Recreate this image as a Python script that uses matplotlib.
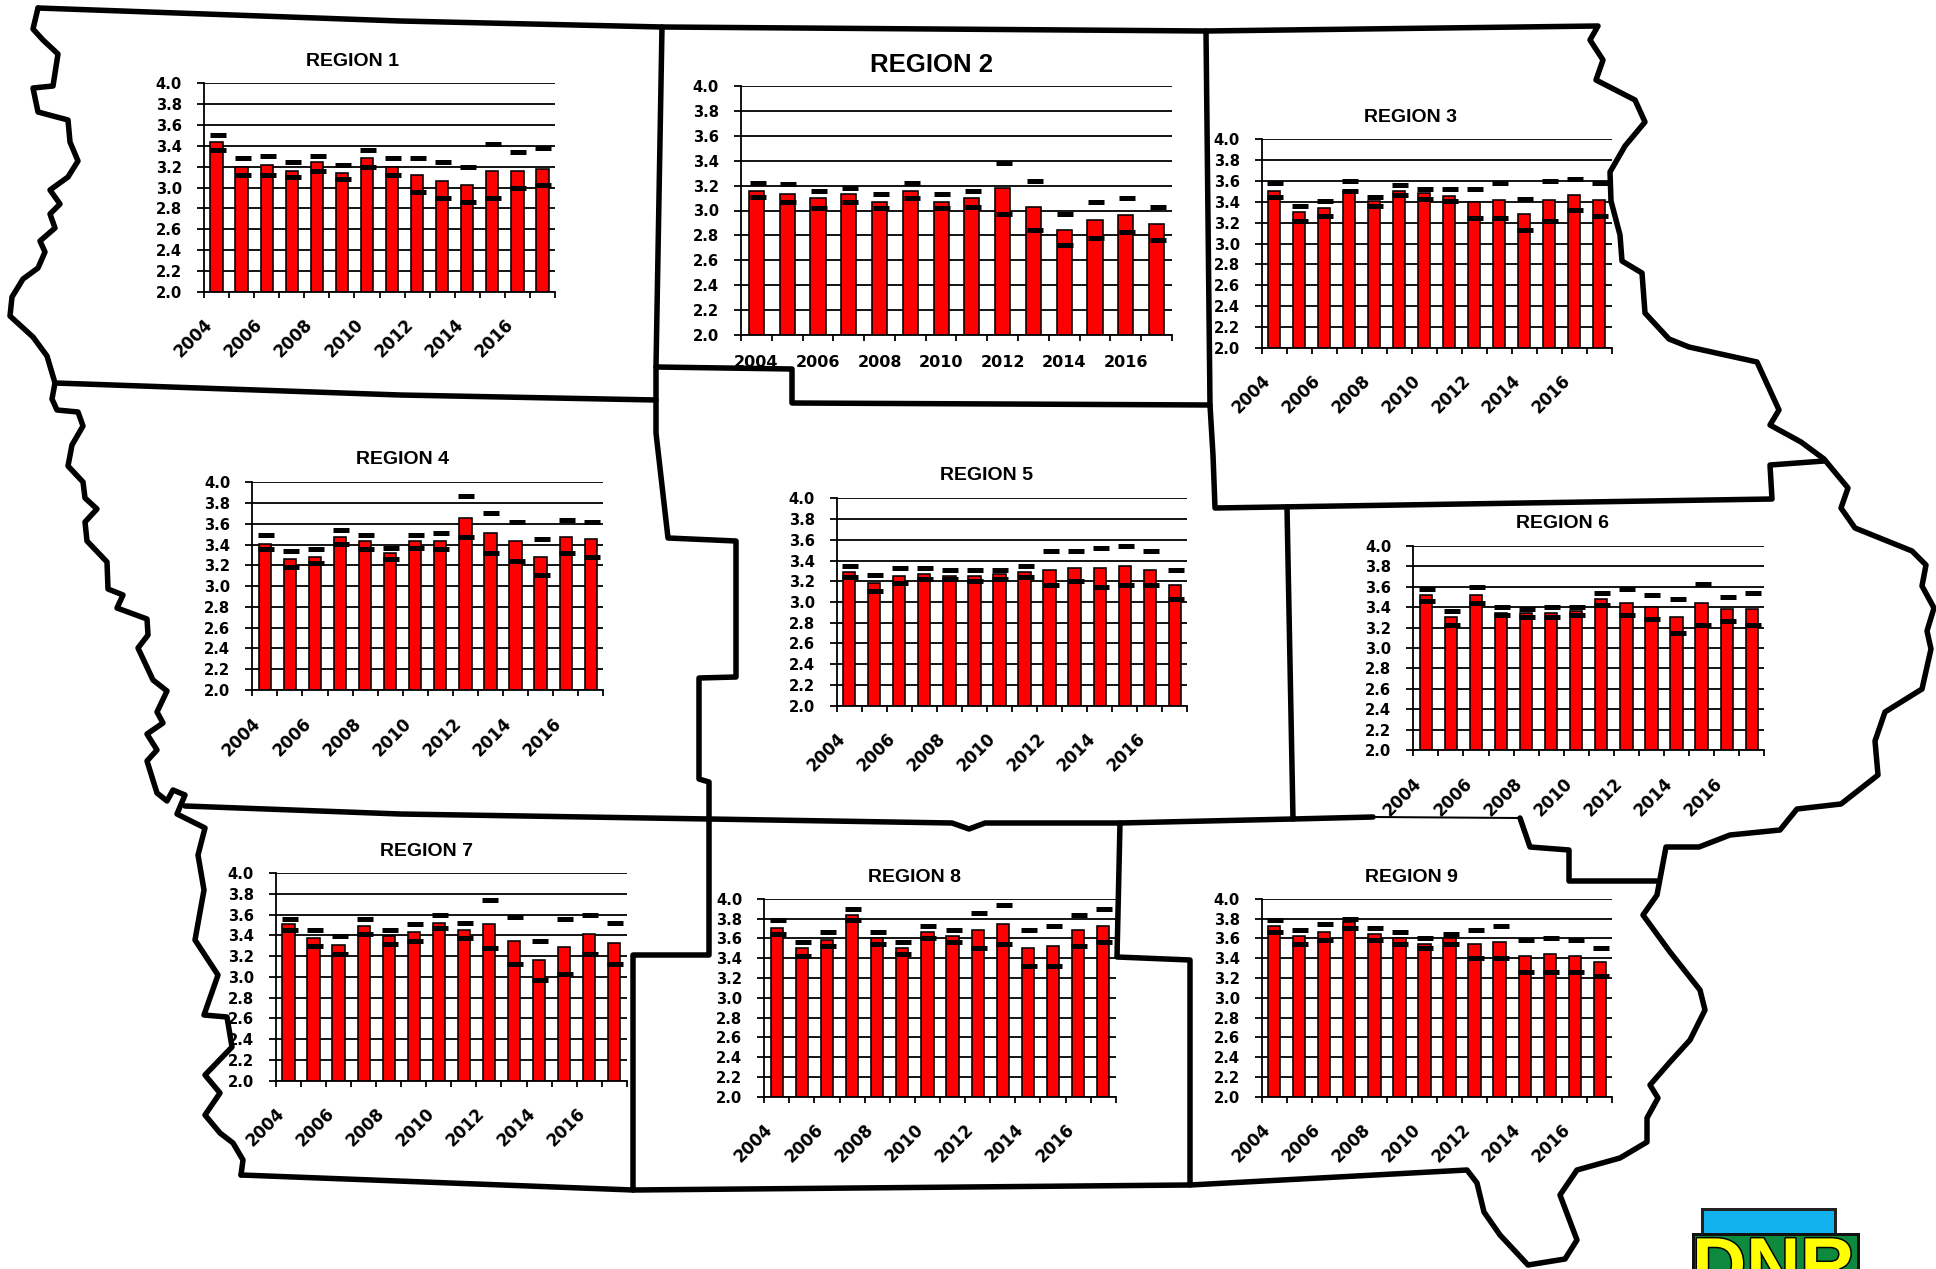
import matplotlib
matplotlib.use("Agg")
import matplotlib.pyplot as plt
import matplotlib.patheffects as pe
from matplotlib.patches import Rectangle
from matplotlib.transforms import ScaledTranslation

W, H = 1936, 1269
DPI = 100
PX = 72 / DPI  # one pixel in points

years = list(range(2004, 2018))
y_ticks = [2.0, 2.2, 2.4, 2.6, 2.8, 3.0, 3.2, 3.4, 3.6, 3.8, 4.0]

# --- values ---
r1_mean = [3.44, 3.20, 3.22, 3.16, 3.24, 3.14, 3.28, 3.20, 3.12, 3.06, 3.02, 3.16, 3.16, 3.18]
r1_high = [3.50, 3.28, 3.30, 3.24, 3.30, 3.22, 3.36, 3.28, 3.28, 3.24, 3.20, 3.42, 3.34, 3.38]
r1_low = [3.36, 3.12, 3.12, 3.10, 3.16, 3.08, 3.20, 3.12, 2.96, 2.90, 2.86, 2.90, 3.00, 3.02]

r2_mean = [3.16, 3.13, 3.10, 3.13, 3.07, 3.16, 3.07, 3.10, 3.18, 3.03, 2.84, 2.92, 2.96, 2.89]
r2_high = [3.22, 3.21, 3.16, 3.18, 3.13, 3.22, 3.13, 3.16, 3.38, 3.24, 2.97, 3.07, 3.10, 3.03]
r2_low = [3.11, 3.07, 3.02, 3.07, 3.02, 3.10, 3.02, 3.03, 2.97, 2.84, 2.72, 2.78, 2.83, 2.76]

r3_mean = [3.50, 3.30, 3.34, 3.50, 3.41, 3.50, 3.48, 3.46, 3.40, 3.42, 3.28, 3.42, 3.47, 3.42]
r3_high = [3.58, 3.36, 3.41, 3.60, 3.45, 3.56, 3.52, 3.52, 3.52, 3.58, 3.43, 3.60, 3.62, 3.58]
r3_low = [3.45, 3.22, 3.26, 3.50, 3.36, 3.47, 3.43, 3.41, 3.24, 3.24, 3.13, 3.22, 3.32, 3.26]

r4_mean = [3.41, 3.26, 3.28, 3.47, 3.43, 3.32, 3.43, 3.43, 3.66, 3.51, 3.43, 3.28, 3.47, 3.45]
r4_high = [3.49, 3.34, 3.36, 3.54, 3.49, 3.37, 3.49, 3.51, 3.87, 3.70, 3.62, 3.45, 3.64, 3.62]
r4_low = [3.36, 3.18, 3.22, 3.41, 3.36, 3.26, 3.37, 3.36, 3.47, 3.32, 3.24, 3.11, 3.32, 3.28]

r5_mean = [3.29, 3.18, 3.25, 3.27, 3.25, 3.25, 3.27, 3.29, 3.31, 3.33, 3.33, 3.35, 3.31, 3.16]
r5_high = [3.35, 3.26, 3.33, 3.33, 3.31, 3.31, 3.31, 3.35, 3.49, 3.49, 3.52, 3.54, 3.49, 3.31]
r5_low = [3.24, 3.11, 3.18, 3.22, 3.22, 3.20, 3.22, 3.24, 3.16, 3.20, 3.14, 3.16, 3.16, 3.03]

r6_mean = [3.52, 3.30, 3.52, 3.34, 3.34, 3.34, 3.36, 3.48, 3.44, 3.40, 3.30, 3.44, 3.38, 3.38]
r6_high = [3.58, 3.36, 3.60, 3.40, 3.38, 3.40, 3.40, 3.54, 3.58, 3.52, 3.48, 3.63, 3.50, 3.54]
r6_low = [3.46, 3.23, 3.44, 3.32, 3.30, 3.30, 3.32, 3.42, 3.32, 3.28, 3.15, 3.23, 3.26, 3.23]

r7_mean = [3.51, 3.37, 3.31, 3.49, 3.39, 3.43, 3.52, 3.45, 3.51, 3.35, 3.16, 3.29, 3.41, 3.33]
r7_high = [3.56, 3.45, 3.39, 3.56, 3.45, 3.51, 3.60, 3.52, 3.74, 3.58, 3.35, 3.56, 3.60, 3.52]
r7_low = [3.45, 3.30, 3.22, 3.41, 3.32, 3.35, 3.47, 3.37, 3.28, 3.12, 2.97, 3.03, 3.22, 3.12]

r8_mean = [3.70, 3.50, 3.58, 3.84, 3.60, 3.50, 3.66, 3.62, 3.68, 3.74, 3.50, 3.52, 3.68, 3.72]
r8_high = [3.78, 3.56, 3.66, 3.90, 3.66, 3.56, 3.72, 3.68, 3.86, 3.94, 3.68, 3.72, 3.84, 3.90]
r8_low = [3.64, 3.42, 3.52, 3.78, 3.54, 3.44, 3.60, 3.56, 3.50, 3.54, 3.32, 3.32, 3.52, 3.56]

r9_mean = [3.72, 3.62, 3.66, 3.76, 3.64, 3.60, 3.54, 3.60, 3.54, 3.56, 3.42, 3.44, 3.42, 3.36]
r9_high = [3.78, 3.68, 3.74, 3.80, 3.70, 3.66, 3.60, 3.64, 3.68, 3.72, 3.58, 3.60, 3.58, 3.50]
r9_low = [3.66, 3.54, 3.58, 3.70, 3.58, 3.54, 3.50, 3.54, 3.40, 3.40, 3.26, 3.26, 3.26, 3.22]

# --- layout in image pixels: left, right, top, bottom of axes; title centre ---
panels = [
    ("REGION 1", r1_mean, r1_high, r1_low, (204, 555, 83.3, 291.7), (352, 62), 14),
    ("REGION 2", r2_mean, r2_high, r2_low, (741, 1172, 85.7, 335.3), (931, 65), 18.5),
    ("REGION 3", r3_mean, r3_high, r3_low, (1261.7, 1611.7, 139.3, 347.7), (1411, 118), 14),
    ("REGION 4", r4_mean, r4_high, r4_low, (252.3, 603.3, 482.3, 690), (402, 460), 14),
    ("REGION 5", r5_mean, r5_high, r5_low, (836.7, 1187.3, 498.3, 705.7), (986, 476), 14),
    ("REGION 6", r6_mean, r6_high, r6_low, (1413.3, 1764.3, 546, 750), (1563, 524), 14),
    ("REGION 7", r7_mean, r7_high, r7_low, (276, 626.7, 873, 1080.7), (426, 851), 14),
    ("REGION 8", r8_mean, r8_high, r8_low, (764.3, 1115.7, 898.7, 1096.7), (914, 877), 14),
    ("REGION 9", r9_mean, r9_high, r9_low, (1261.7, 1612.3, 898.7, 1096.7), (1411, 877), 14),
]

# --- state outline and region borders, image pixels ---
west_river = [
    (38, 8), (33, 29), (43, 40), (58, 54), (53, 86), (33, 88), (38, 112), (68, 120), (70, 142),
    (78, 161), (68, 177), (50, 190), (60, 204), (50, 214), (55, 228), (40, 241), (45, 252),
    (38, 268), (23, 279), (12, 297), (10, 316), (33, 337), (47, 356), (55, 383), (52, 399),
    (57, 410), (78, 412), (83, 426), (72, 445), (68, 466), (83, 482), (85, 498), (97, 509),
    (85, 522), (87, 541), (107, 562), (108, 589), (123, 595), (117, 608), (147, 619), (148, 635),
    (138, 648), (153, 680), (167, 691), (157, 712), (163, 723), (147, 734), (157, 750), (147, 761),
    (157, 793), (167, 801), (173, 790), (185, 795), (177, 814), (205, 828), (198, 855), (204, 890),
    (195, 940), (218, 975), (204, 1015), (227, 1017), (232, 1047), (205, 1075), (220, 1093),
    (205, 1115), (220, 1133), (233, 1143), (243, 1160), (241, 1175),
]
south_east = [
    (241, 1175), (633, 1190), (1190, 1185), (1467, 1170), (1477, 1183), (1484, 1212), (1500, 1235),
    (1528, 1265), (1565, 1259), (1577, 1240), (1560, 1195), (1577, 1170), (1620, 1158), (1647, 1142),
    (1647, 1118), (1658, 1098), (1650, 1085), (1670, 1062), (1690, 1040), (1705, 1010), (1700, 990),
    (1670, 952), (1643, 915), (1657, 895), (1666, 847), (1699, 847), (1730, 835),
    (1780, 830), (1797, 809), (1841, 804), (1878, 775), (1875, 741), (1885, 712), (1922, 689),
    (1931, 649), (1927, 631), (1934, 608), (1922, 586), (1926, 565), (1912, 551), (1855, 528),
    (1841, 508), (1848, 488), (1824, 459), (1801, 442), (1770, 425), (1779, 410), (1757, 362),
    (1689, 347), (1669, 339), (1645, 313), (1642, 273), (1622, 261), (1620, 235), (1611, 201),
    (1610, 172), (1625, 146), (1645, 122), (1635, 100), (1596, 80), (1603, 60), (1590, 40),
    (1598, 26), (1206, 31), (662, 27), (400, 21), (38, 8),
]
borders = [
    [(55, 383), (400, 395), (656, 400)],
    [(662, 27), (656, 367), (656, 433), (668, 538), (736, 541), (736, 677), (699, 678), (699, 779),
     (709, 782), (709, 955), (633, 955), (633, 1190)],
    [(656, 367), (792, 369), (792, 403), (1210, 405)],
    [(1206, 31), (1210, 405), (1213, 455), (1215, 508), (1772, 499), (1770, 465), (1824, 461)],
    [(1287, 507), (1293, 819)],
    [(185, 806), (400, 814), (709, 819), (952, 823), (969, 829), (985, 823), (1120, 823), (1293, 819), (1373, 817)],
    [(1120, 823), (1117, 957), (1190, 960), (1190, 1185)],
    [(1520, 818), (1530, 847), (1569, 850), (1569, 881), (1657, 881)],
]
thin_border = [(1373, 817), (1520, 818)]


def to_fig(box):
    left, right, top, bottom = box
    return [left / W, 1 - bottom / H, (right - left) / W, (bottom - top) / H]


fig = plt.figure(figsize=(W / DPI, H / DPI), dpi=DPI, facecolor="white")

# map layer drawn in pixel coordinates
base = fig.add_axes([0, 0, 1, 1])
base.set_xlim(0, W)
base.set_ylim(H, 0)
base.axis("off")
for line in [west_river, south_east] + borders:
    xs, ys = zip(*line)
    base.plot(xs, ys, color="black", lw=5.5 * PX, solid_joinstyle="round", solid_capstyle="round")
xs, ys = zip(*thin_border)
base.plot(xs, ys, color="black", lw=2 * PX)

# DNR logo, cut by the bottom of the image
base.add_patch(Rectangle((1702, 1209), 133, 40, fc="#12b2ee", ec="#222222", lw=3 * PX))
base.add_patch(Rectangle((1693, 1234), 165, 40, fc="#0d8a3e", ec="#111111", lw=3 * PX))
base.text(1692, 1290, "DNR", family="Liberation Sans", weight="bold", fontsize=54, color="#ffff00",
          ha="left", va="baseline",
          path_effects=[pe.withStroke(linewidth=3 * PX, foreground="black")])

for name, mean, high, low, box, title_xy, title_size in panels:
    ax = fig.add_axes(to_fig(box))
    ax.patch.set_alpha(0)
    x = list(range(len(years)))
    ax.bar(x, mean, bottom=0, width=0.49, color="#ff0000", edgecolor="black", linewidth=1.6 * PX, zorder=2)
    dash_x = [i + 0.04 for i in x]
    for series in (high, low):
        ax.plot(dash_x, series, ls="none", marker="_", ms=15.5 * PX, mew=5 * PX, color="black",
                zorder=3, clip_on=False)

    ax.set_xlim(-0.5, 13.5)
    ax.set_ylim(2.0, 4.0)
    ax.set_yticks(y_ticks)
    ax.set_yticklabels([f"{v:.1f}" for v in y_ticks], family="DejaVu Sans", weight="bold", fontsize=10.6)
    ax.set_xticks([i - 0.5 for i in range(15)])
    ax.set_xticklabels([])
    ax.set_xticks(x[::2], minor=True)
    rotated = name != "REGION 2"
    ax.set_xticklabels([str(y) for y in years[::2]], minor=True, family="DejaVu Sans", weight="bold",
                       fontsize=12 if rotated else 11.5)
    ax.tick_params(axis="y", length=7 * PX, width=1.8 * PX, pad=15 * PX)
    ax.tick_params(axis="x", which="major", length=6 * PX, width=1.8 * PX)
    ax.tick_params(axis="x", which="minor", length=0, pad=(24 if rotated else 20) * PX)
    if rotated:
        shift = ScaledTranslation(-13 / DPI, 0, fig.dpi_scale_trans)
        for lab in ax.get_xticklabels(minor=True):
            lab.set_rotation(45)
            lab.set_ha("right")
            lab.set_va("top")
            lab.set_rotation_mode("anchor")
            lab.set_transform(lab.get_transform() + shift)

    ax.grid(axis="y", color="black", lw=1.8 * PX)
    ax.set_axisbelow(True)
    for side in ("top", "right"):
        ax.spines[side].set_visible(False)
    for side in ("left", "bottom"):
        ax.spines[side].set_linewidth(1.8 * PX)

    base.text(title_xy[0], title_xy[1], name, family="Liberation Sans", weight="bold", fontsize=title_size,
              ha="center", va="center", color="black")

fig.savefig("out.png", dpi=DPI)
